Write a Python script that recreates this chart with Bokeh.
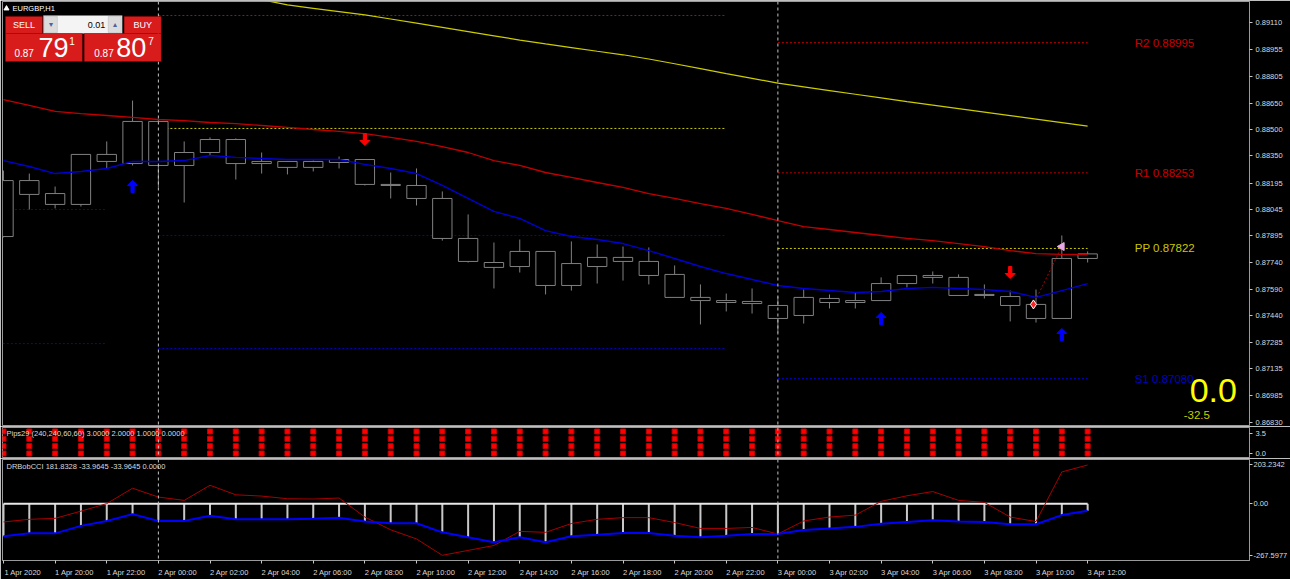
from bokeh.plotting import figure
from bokeh.layouts import column
from bokeh.models import (Range1d, FixedTicker, Span, Label, BoxAnnotation,
                          ColumnDataSource, PrintfTickFormatter)
from bokeh.embed import file_html
from bokeh.resources import INLINE

# ---------------------------------------------------------------- data
bars = list(range(43))                      # H1 bars, 1 Apr 18:00 .. 3 Apr 12:00
time_tick_bars = [0, 2, 4, 6, 8, 10, 12, 14, 16, 18, 20, 22, 24, 26, 28, 30, 32, 34, 36, 38, 40, 42]
time_tick_labels = ["1 Apr 2020", "1 Apr 20:00", "1 Apr 22:00", "2 Apr 00:00", "2 Apr 02:00",
                    "2 Apr 04:00", "2 Apr 06:00", "2 Apr 08:00", "2 Apr 10:00", "2 Apr 12:00",
                    "2 Apr 14:00", "2 Apr 16:00", "2 Apr 18:00", "2 Apr 20:00", "2 Apr 22:00",
                    "3 Apr 00:00", "3 Apr 02:00", "3 Apr 04:00", "3 Apr 06:00", "3 Apr 08:00",
                    "3 Apr 10:00", "3 Apr 12:00"]
day_separator_bars = [6, 30]

open_ = [0.87890, 0.88209, 0.88135, 0.88073, 0.88358, 0.88306, 0.88546, 0.88295, 0.88369, 0.88443,
         0.88306, 0.88318, 0.88284, 0.88312, 0.88329, 0.88187, 0.88181, 0.88107, 0.87879, 0.87742,
         0.87719, 0.87805, 0.87611, 0.87719, 0.87771, 0.87748, 0.87674, 0.87543, 0.87525, 0.87520,
         0.87497, 0.87440, 0.87537, 0.87514, 0.87525, 0.87622, 0.87668, 0.87657, 0.87554, 0.87548,
         0.87503, 0.87423, 0.87765]
high = [0.88266, 0.88249, 0.88175, 0.88358, 0.88432, 0.88665, 0.88557, 0.88432, 0.88455, 0.88449,
        0.88369, 0.88318, 0.88323, 0.88346, 0.88329, 0.88255, 0.88278, 0.88147, 0.88016, 0.87856,
        0.87873, 0.87805, 0.87862, 0.87845, 0.87833, 0.87828, 0.87725, 0.87617, 0.87565, 0.87594,
        0.87548, 0.87588, 0.87560, 0.87571, 0.87657, 0.87668, 0.87691, 0.87674, 0.87617, 0.87582,
        0.87588, 0.87896, 0.87805]
low = [0.87885, 0.88044, 0.88050, 0.88061, 0.88278, 0.88295, 0.88170, 0.88084, 0.88352, 0.88215,
       0.88249, 0.88244, 0.88261, 0.88278, 0.88181, 0.88107, 0.88067, 0.87867, 0.87742, 0.87594,
       0.87685, 0.87560, 0.87582, 0.87622, 0.87639, 0.87617, 0.87543, 0.87389, 0.87463, 0.87451,
       0.87343, 0.87394, 0.87480, 0.87480, 0.87525, 0.87600, 0.87622, 0.87554, 0.87537, 0.87406,
       0.87400, 0.87423, 0.87742]
close = [0.88209, 0.88130, 0.88073, 0.88358, 0.88318, 0.88546, 0.88295, 0.88369, 0.88443, 0.88306,
         0.88318, 0.88284, 0.88318, 0.88329, 0.88187, 0.88181, 0.88107, 0.87879, 0.87748, 0.87714,
         0.87805, 0.87611, 0.87736, 0.87771, 0.87748, 0.87668, 0.87543, 0.87525, 0.87514, 0.87508,
         0.87423, 0.87543, 0.87514, 0.87525, 0.87622, 0.87668, 0.87657, 0.87554, 0.87560, 0.87497,
         0.87423, 0.87765, 0.87791]

ma_red = [0.88671, 0.88637, 0.88603, 0.88591, 0.88580, 0.88569, 0.88557, 0.88551, 0.88540, 0.88534,
          0.88523, 0.88512, 0.88500, 0.88489, 0.88477, 0.88455, 0.88432, 0.88403, 0.88369, 0.88323,
          0.88295, 0.88255, 0.88227, 0.88198, 0.88170, 0.88135, 0.88107, 0.88078, 0.88050, 0.88016,
          0.87981, 0.87947, 0.87930, 0.87913, 0.87896, 0.87879, 0.87867, 0.87850, 0.87833, 0.87810,
          0.87793, 0.87788, 0.87788]
ma_blue = [0.88323, 0.88289, 0.88249, 0.88261, 0.88278, 0.88318, 0.88318, 0.88323, 0.88352, 0.88341,
           0.88335, 0.88329, 0.88329, 0.88329, 0.88301, 0.88278, 0.88249, 0.88181, 0.88107, 0.88033,
           0.87993, 0.87924, 0.87890, 0.87873, 0.87850, 0.87810, 0.87765, 0.87719, 0.87679, 0.87645,
           0.87611, 0.87594, 0.87582, 0.87571, 0.87577, 0.87594, 0.87600, 0.87594, 0.87588, 0.87577,
           0.87543, 0.87582, 0.87622]
ma_yellow_bars = list(range(9, 43))
ma_yellow = [0.89259, 0.89240, 0.89210, 0.89191, 0.89172, 0.89153, 0.89130, 0.89106, 0.89082, 0.89058,
             0.89034, 0.89010, 0.88988, 0.88967, 0.88946, 0.88926, 0.88902, 0.88875, 0.88847, 0.88819,
             0.88792, 0.88764, 0.88743, 0.88722, 0.88701, 0.88680, 0.88659, 0.88639, 0.88619, 0.88599,
             0.88579, 0.88559, 0.88539, 0.88519]

# daily pivot levels (name, value, first bar, last bar)
pivot_names = ["S1", "S2", "R1", "PP", "S1", "S2", "R2", "R1", "PP", "S1"]
pivot_values = [0.88044, 0.87280, 0.89150, 0.88506, 0.87896, 0.87252, 0.88995, 0.88253, 0.87822, 0.87080]
pivot_start = [-18, -18, 6, 6, 6, 6, 30, 30, 30, 30]
pivot_end = [4, 4, 28, 28, 28, 28, 42, 42, 42, 42]
today_level_labels = ["R2 0.88995", "R1 0.88253", "PP 0.87822", "S1 0.87080"]
today_level_values = [0.88995, 0.88253, 0.87822, 0.87080]

up_arrow_bars = [5, 34, 41]
up_arrow_price = [0.88175, 0.87423, 0.87332]
down_arrow_bars = [14, 39]
down_arrow_price = [0.88443, 0.87685]

trade_time = [39.9, 41.0]
trade_price = [0.87503, 0.87833]
bid_price = 0.87791

price_ticks = [0.89110, 0.88955, 0.88805, 0.88650, 0.88500, 0.88350, 0.88195, 0.88045,
               0.87895, 0.87740, 0.87590, 0.87440, 0.87285, 0.87135, 0.86985, 0.86830]

# Pips29 buffers
pips_b0 = [3, 3, 3, 3, 3, 3, 3, 3, 3, 3, 3, 3, 3, 3, 3, 3, 3, 3, 3, 3, 3, 3,
           3, 3, 3, 3, 3, 3, 3, 3, 3, 3, 3, 3, 3, 3, 3, 3, 3, 3, 3, 3, 3]
pips_b1 = [2, 2, 2, 2, 2, 2, 2, 2, 2, 2, 2, 2, 2, 2, 2, 2, 2, 2, 2, 2, 2, 2,
           2, 2, 2, 2, 2, 2, 2, 2, 2, 2, 2, 2, 2, 2, 2, 2, 2, 2, 2, 2, 2]
pips_b2 = [1, 1, 1, 1, 1, 1, 1, 1, 1, 1, 1, 1, 1, 1, 1, 1, 1, 1, 1, 1, 1, 1,
           1, 1, 1, 1, 1, 1, 1, 1, 1, 1, 1, 1, 1, 1, 1, 1, 1, 1, 1, 1, 1]
pips_b3 = [0, 0, 0, 0, 0, 0, 0, 0, 0, 0, 0, 0, 0, 0, 0, 0, 0, 0, 0, 0, 0, 0,
           0, 0, 0, 0, 0, 0, 0, 0, 0, 0, 0, 0, 0, 0, 0, 0, 0, 0, 0, 0, 0]

# DRBobCCI buffers
cci_red = [-86.3, -73.9, -69.2, -35.5, 0.0, 72.5, 30.9, 15.2, 86.3, 41.5,
           35.5, 23.1, 21.7, 26.3, -63.2, -123.2, -166.2, -243.3, -220.2, -197.1,
           -130.6, -135.2, -93.7, -73.9, -66.0, -66.0, -89.1, -116.8, -116.8, -112.2,
           -143.1, -81.7, -63.2, -54.0, 10.6, 36.9, 56.8, 15.2, 6.0, -63.2,
           -84.5, 149.1, 181.8328]
cci_blue = [-153.7, -139.9, -139.9, -104.8, -81.7, -49.4, -81.7, -81.7, -56.8, -73.9,
            -73.9, -73.9, -70.6, -66.0, -84.5, -92.3, -92.3, -135.2, -158.3, -181.4,
            -158.3, -181.4, -153.7, -146.3, -138.5, -138.5, -150.9, -158.3, -150.9, -143.1,
            -143.1, -124.6, -116.8, -109.4, -94.6, -86.3, -78.5, -84.5, -86.3, -96.9,
            -96.9, -54.0, -33.9645]
cci_hist = cci_blue
cci_zero = [0, 0, 0, 0, 0, 0, 0, 0, 0, 0, 0, 0, 0, 0, 0, 0, 0, 0, 0, 0, 0, 0,
            0, 0, 0, 0, 0, 0, 0, 0, 0, 0, 0, 0, 0, 0, 0, 0, 0, 0, 0, 0, 0]

# ---------------------------------------------------------------- layout
W = 1290
FONT = "Liberation Sans"
TXT = "#DADADA"
GRID = "#9a9a9a"
BAR_PX = 25.875
X0_PX = 3.0
x_range = Range1d((2 - X0_PX) / BAR_PX, (1252 - X0_PX) / BAR_PX)

MAIN_TOP, MAIN_BOT = 0.892297, 0.868129          # frame rows 1..425
PX_PRICE = (MAIN_TOP - MAIN_BOT) / 424.0
PIPS_LO, PIPS_HI = -0.545, 3.545                  # frame rows 427..457
CCI_LO, CCI_HI = -267.7, 207.7                    # frame rows 459..562


def xd(px):
    return (px - X0_PX) / BAR_PX


def yd(py):
    return MAIN_TOP - (py - 1) * PX_PRICE


def make_fig(height, y_range, top_b, bot_b, xloc=None):
    f = figure(width=W, height=height, x_range=x_range, y_range=y_range,
               output_backend="svg", toolbar_location=None,
               y_axis_location="right", x_axis_location=xloc,
               min_border_left=2, min_border_right=38,
               min_border_top=top_b, min_border_bottom=bot_b,
               background_fill_color="black", border_fill_color="black",
               outline_line_color=GRID, outline_line_width=1)
    f.xgrid.visible = False
    f.ygrid.visible = False
    ax = f.yaxis[0]
    ax.axis_line_color = GRID
    ax.major_tick_line_color = "#c8c8c8"
    ax.major_tick_out = 3
    ax.major_tick_in = 0
    ax.minor_tick_line_color = None
    ax.major_label_text_color = TXT
    ax.major_label_text_font = FONT
    ax.major_label_text_font_size = "7.5px"
    ax.major_label_standoff = 3
    for b in day_separator_bars:
        f.add_layout(Span(location=b, dimension="height", line_color="#c4c4c4",
                          line_dash="3 3", line_width=1))
    return f


def text(f, x, y, s, size, color, align="left", style="normal"):
    f.add_layout(Label(x=x, y=y, text=s, text_font_size=size, text_color=color,
                       text_align=align, text_baseline="middle", text_font=FONT,
                       text_font_style=style))


# ================================================================ main chart
p = make_fig(426, Range1d(MAIN_BOT, MAIN_TOP), 1, 1)
p.yaxis[0].ticker = FixedTicker(ticks=price_ticks)
p.yaxis[0].formatter = PrintfTickFormatter(format="%.5f")

piv_col = {"R": "#c80000", "P": "#c8c800", "S": "#0000d0"}
p.segment(x0=pivot_start, x1=pivot_end, y0=pivot_values, y1=pivot_values,
          line_color=[piv_col[n[0]] for n in pivot_names], line_dash="2 2", line_width=1)

top = [max(o, c) for o, c in zip(open_, close)]
bot = [min(o, c) for o, c in zip(open_, close)]
src = ColumnDataSource(dict(x=bars, high=high, low=low, top=top, bottom=bot))
CANDLE = "#808080"
p.segment(x0="x", x1="x", y0="high", y1="low", source=src, line_color=CANDLE, line_width=1)
p.vbar(x="x", width=0.75, top="top", bottom="bottom", source=src,
       fill_color="black", line_color=CANDLE, line_width=1)

p.line(ma_yellow_bars, ma_yellow, line_color="#cccc00", line_width=1.2)
p.line(bars, ma_red, line_color="#c00000", line_width=1.3)
p.line(bars, ma_blue, line_color="#0000d0", line_width=1.4)

# signal arrows
UP_SHAPE = [(0, 6), (5, 1), (1.6, 1), (1.6, -6), (-1.6, -6), (-1.6, 1), (-5, 1)]


def arrows(xs, ys, sign):
    axs, ays = [], []
    for x, y in zip(xs, ys):
        axs.append([x + dx / BAR_PX for dx, dy in UP_SHAPE])
        ays.append([y + sign * dy * PX_PRICE for dx, dy in UP_SHAPE])
    return axs, ays


ux, uy = arrows(up_arrow_bars, up_arrow_price, 1)
p.patches(ux, uy, fill_color="#0000ff", line_color="#0000ff")
dx_, dy_ = arrows(down_arrow_bars, down_arrow_price, -1)
p.patches(dx_, dy_, fill_color="#ff0000", line_color="#ff0000")

# trade history
p.line(trade_time, trade_price, line_color="#b00000", line_dash="2 2", line_width=1)
p.scatter([trade_time[0]], [trade_price[0]], marker="diamond", size=9,
          fill_color="#ff2020", line_color="white", line_width=1)
p.scatter([trade_time[1]], [trade_price[1]], marker="triangle", angle=1.5708, size=8,
          fill_color="#e8a8e8", line_color="#e8a8e8")

# pivot labels for the current day
lvl_colors = ["#c80000", "#c80000", "#c8c800", "#0000c8"]
for s, v, c in zip(today_level_labels, today_level_values, lvl_colors):
    text(p, xd(1137), v, s, "11.5px", c)
text(p, xd(1192), yd(390), "0.0", "34px", "#ffff00")
text(p, xd(1186), yd(414), "-32.5", "11.5px", "#cccc00")

# bid price box on the price scale
p.add_layout(Label(x=xd(1255), y=bid_price, text="0.87791", text_font_size="7.5px",
                   text_color="black", text_font=FONT, text_baseline="middle",
                   background_fill_color="white", border_line_color="#808080",
                   padding=1))

# symbol title + one-click trading panel
p.scatter([xd(6)], [yd(8)], marker="triangle", size=5, fill_color="white", line_color="white")
text(p, xd(12), yd(8), "EURGBP,H1", "7.5px", "white")


def box(l, t, r, b, fill, line=None):
    p.add_layout(BoxAnnotation(left=xd(l), right=xd(r), top=yd(t), bottom=yd(b),
                               fill_color=fill, fill_alpha=1.0,
                               line_color=line if line else fill, line_width=1))


RED = "#d81c1c"
box(5, 16, 42, 33, RED, "#a80000")
box(124, 16, 161, 33, RED, "#a80000")
box(43, 15, 122, 33, "#f4f4f4", "#7a7a7a")
box(44, 16, 57, 32, "#dcdcdc", "#9a9a9a")
box(108, 16, 121, 32, "#dcdcdc", "#9a9a9a")
box(5, 33, 82, 61, RED, "#a00000")
box(84, 33, 161, 61, RED, "#a00000")
text(p, xd(23.5), yd(24.5), "SELL", "9px", "white", "center")
text(p, xd(142.5), yd(24.5), "BUY", "9px", "white", "center")
text(p, xd(105), yd(24.5), "0.01", "9px", "black", "right")
text(p, xd(50.5), yd(24), "\u25be", "8px", "#5060a0", "center")
text(p, xd(114.5), yd(24), "\u25b4", "8px", "#5060a0", "center")
text(p, xd(14), yd(52), "0.87", "10px", "white")
text(p, xd(38), yd(47), "79", "27px", "white")
text(p, xd(69), yd(40), "1", "10px", "white")
text(p, xd(94), yd(52), "0.87", "10px", "white")
text(p, xd(116), yd(47), "80", "27px", "white")
text(p, xd(148), yd(40), "7", "10px", "white")

# ================================================================ Pips29
q = make_fig(32, Range1d(PIPS_LO, PIPS_HI), 1, 1)
q.yaxis[0].ticker = FixedTicker(ticks=[2.77, 0.0])
q.yaxis[0].major_label_overrides = {2.77: "3.5", 0.0: "0.0"}
for buf in (pips_b0, pips_b1, pips_b2, pips_b3):
    q.scatter(bars, buf, marker="square", size=5, fill_color="#ff0000", line_color="#c00000")
text(q, xd(6), PIPS_HI - (433 - 427) / 7.33,
     "Pips29 (240,240,60,60) 3.0000 2.0000 1.0000 0.0000", "7.5px", TXT)

# ================================================================ DRBobCCI
r = make_fig(121, Range1d(CCI_LO, CCI_HI), 1, 17, xloc="below")
r.yaxis[0].ticker = FixedTicker(ticks=[184.6, 0.0, -244.6])
r.yaxis[0].major_label_overrides = {184.6: "203.2342", 0.0: "0.00", -244.6: "-267.5977"}
r.yaxis[0].major_label_standoff = 1
xa = r.xaxis[0]
shift = 0.75
xa.ticker = FixedTicker(ticks=[b + shift for b in time_tick_bars], minor_ticks=time_tick_bars)
xa.major_label_overrides = {b + shift: s for b, s in zip(time_tick_bars, time_tick_labels)}
xa.axis_line_color = GRID
xa.major_tick_line_color = None
xa.major_tick_out = 0
xa.major_tick_in = 0
xa.minor_tick_line_color = "#c8c8c8"
xa.minor_tick_out = 3
xa.minor_tick_in = 0
xa.major_label_text_color = TXT
xa.major_label_text_font = FONT
xa.major_label_text_font_size = "7.5px"
xa.major_label_standoff = 4

r.segment(x0=bars, x1=bars, y0=cci_zero, y1=cci_hist, line_color="#c8c8c8", line_width=2)
r.line(bars, cci_zero, line_color="#e8e8e8", line_width=2)
r.line(bars, cci_red, line_color="#a80000", line_width=1)
r.line(bars, cci_blue, line_color="#0000ff", line_width=2)
text(r, xd(6), CCI_HI - (466 - 459) * 4.616,
     "DRBobCCI 181.8328 -33.9645 -33.9645 0.0000", "7.5px", TXT)

layout = column(p, q, r, spacing=0)
open("out.html", "w").write(file_html(layout, INLINE))
